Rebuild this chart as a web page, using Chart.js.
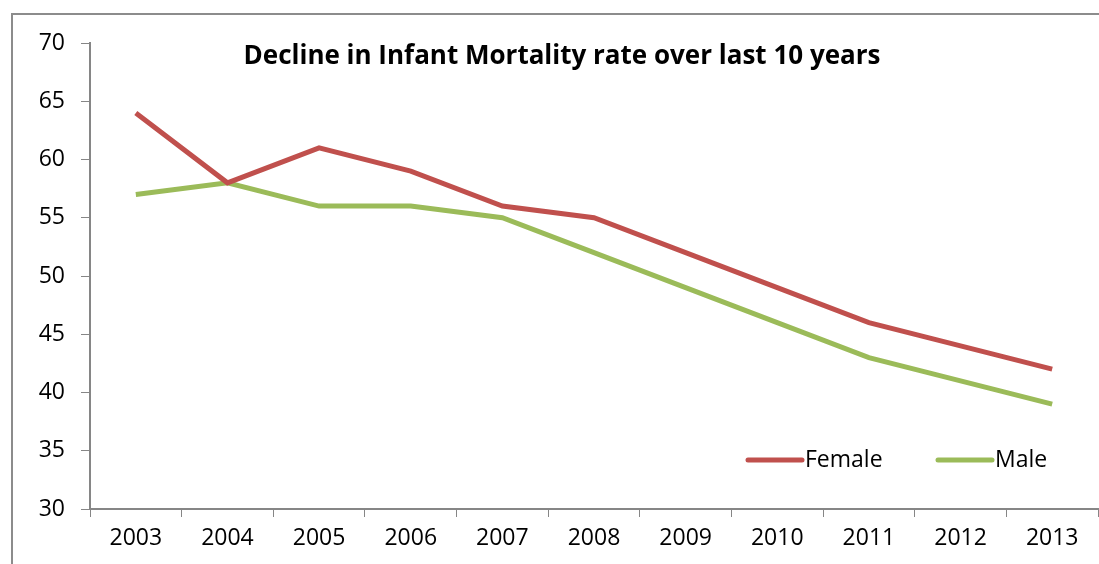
<!DOCTYPE html>
<html>
<head>
<meta charset="utf-8">
<script src="https://cdn.jsdelivr.net/npm/chart.js@4/dist/chart.umd.min.js"></script>
<style>
  html, body { margin: 0; padding: 0; background: #fff; overflow: hidden; }
  #frame {
    position: absolute; left: 11px; top: 13px; width: 1200px; height: 700px;
    border-top: 2px solid #8c8c8c; border-left: 2px solid #8c8c8c;
  }
  #wrap { position: absolute; left: 0; top: 0; width: 1099px; height: 564px; }
</style>
</head>
<body>
<div id="frame"></div>
<div id="wrap"><canvas id="chart"></canvas></div>
<script>
var years = ["2003", "2004", "2005", "2006", "2007", "2008", "2009", "2010", "2011", "2012", "2013"];
var female = [64, 58, 61, 59, 56, 55, 52, 49, 46, 44, 42];
var male = [57, 58, 56, 56, 55, 52, 49, 46, 43, 41, 39];
var titleText = "Decline in Infant Mortality rate over last 10 years";

var fontFamily = "'Open Sans', 'Liberation Sans', sans-serif";

// title and legend sit inside the plot, drawn by hand
var overlay = {
    id: "overlay",
    afterDraw: function (chart) {
        var ctx = chart.ctx;
        ctx.save();
        ctx.fillStyle = "#000";
        ctx.font = "bold 26px " + fontFamily;
        ctx.textAlign = "center";
        ctx.textBaseline = "middle";
        ctx.fillText(titleText, 562, 57);

        ctx.font = "23px " + fontFamily;
        ctx.textAlign = "left";
        var x = 748;
        var y = 460;
        chart.data.datasets.forEach(function (ds) {
            ctx.strokeStyle = ds.borderColor;
            ctx.lineWidth = 5;
            ctx.lineCap = "round";
            ctx.beginPath();
            ctx.moveTo(x, y);
            ctx.lineTo(x + 54, y);
            ctx.stroke();
            ctx.fillText(ds.label, x + 57, y);
            x += 190;
        });
        ctx.restore();
    }
};

var ctx = document.getElementById("chart");
var data = {
    labels: years,
    datasets: [
        {
            label: "Female",
            data: female,
            borderColor: "#C0504D",
            backgroundColor: "#C0504D",
            borderWidth: 5,
            pointRadius: 0,
            tension: 0,
            fill: false
        },
        {
            label: "Male",
            data: male,
            borderColor: "#9BBB59",
            backgroundColor: "#9BBB59",
            borderWidth: 5,
            pointRadius: 0,
            tension: 0,
            fill: false
        }
    ]
};

var mortalityChart = new Chart(ctx, {
    type: "line",
    data: data,
    plugins: [overlay],
    options: {
        responsive: true,
        maintainAspectRatio: false,
        animation: false,
        layout: { padding: { left: 12, top: 43, right: 1, bottom: 0 } },
        plugins: {
            legend: { display: false },
            title: { display: false },
            tooltip: { enabled: false }
        },
        scales: {
            x: {
                offset: true,
                grid: { display: true, drawOnChartArea: false, drawTicks: true, tickLength: 8, color: "#868686", offset: true },
                border: { display: true, color: "#868686", width: 2 },
                ticks: { color: "#000", font: { family: fontFamily, size: 23 }, padding: 8, maxRotation: 0 },
                afterFit: function (s) { s.height = 55; }
            },
            y: {
                min: 30,
                max: 70,
                grid: { display: true, drawOnChartArea: false, drawTicks: true, tickLength: 9, color: "#868686" },
                border: { display: true, color: "#868686", width: 2 },
                ticks: { stepSize: 5, color: "#000", font: { family: fontFamily, size: 23 }, padding: 16 },
                afterFit: function (s) { s.width = 78; }
            }
        }
    }
});
</script>
</body>
</html>
